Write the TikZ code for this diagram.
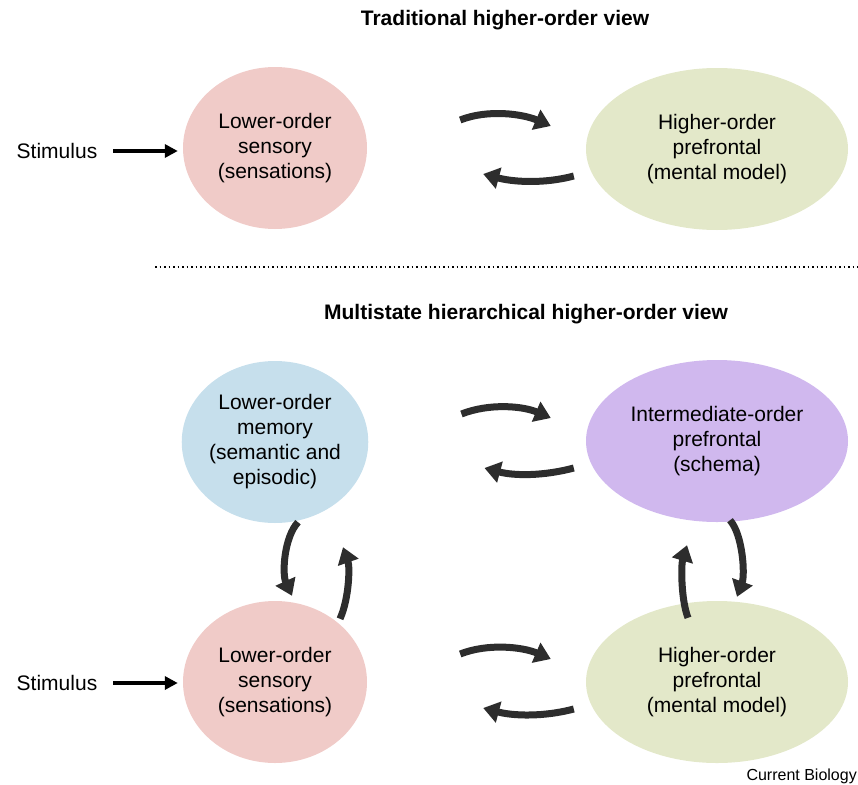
\documentclass[tikz,border=0pt]{standalone}
\usepackage{fontspec}
\setmainfont{Liberation Sans}
\usetikzlibrary{shapes.geometric,arrows.meta}
\definecolor{sensepink}{RGB}{240,203,200}
\definecolor{modelgreen}{RGB}{227,232,201}
\definecolor{memblue}{RGB}{198,223,236}
\definecolor{schemapurple}{RGB}{208,184,238}
\definecolor{arrowgray}{RGB}{45,45,45}
\begin{document}
\begin{tikzpicture}[x=1pt,y=-1pt,
  every node/.style={font=\fontsize{21}{25}\selectfont, align=center, inner sep=0pt},
  heading/.style={font=\bfseries\fontsize{21}{25}\selectfont},
  blob/.style={ellipse, minimum height=162pt},
  cycarrow/.style={line width=7pt, draw=arrowgray, -{Triangle[length=16pt,width=21pt]}},
  stimarrow/.style={line width=4.5pt, -{Triangle[length=13pt,width=13pt]}}]
\useasboundingbox (0,0) rectangle (858,784);
% traditional view
\node[heading] (title1) at (505,20) {Traditional higher-order view};
\node (stim1) at (57,151) {Stimulus};
\node[blob, fill=sensepink, minimum width=184pt] (sens1) at (275,148) {Lower-order\\sensory\\(sensations)};
\node[blob, fill=modelgreen, minimum width=262pt] (model1) at (717,149) {Higher-order\\prefrontal\\(mental model)};
\draw[line width=1.8pt, dash pattern=on 1.8pt off 2.7pt] (155,267) -- (858,267);
% multistate view
\node[heading] (title2) at (526,314) {Multistate hierarchical higher-order view};
\node[blob, fill=memblue, minimum width=184pt] (memory) at (275,442) {Lower-order\\memory\\(semantic and\\episodic)};
\node[blob, fill=schemapurple, minimum width=262pt] (schema) at (717,441) {Intermediate-order\\prefrontal\\(schema)};
\node[blob, fill=sensepink, minimum width=184pt] (sens2) at (275,682) {Lower-order\\sensory\\(sensations)};
\node[blob, fill=modelgreen, minimum width=262pt] (model2) at (717,682) {Higher-order\\prefrontal\\(mental model)};
\node (stim2) at (57,683) {Stimulus};
\node[anchor=east, font=\fontsize{16}{19}\selectfont] (source) at (857,776) {Current Biology};
% stimulus input
\draw[stimarrow] ([xshift=16pt]stim1.east) -- ([xshift=-5pt]stim1.east -| sens1.west);
\draw[stimarrow] ([xshift=16pt]stim2.east) -- ([xshift=-5pt]stim2.east -| sens2.west);
% feedforward / feedback loops
\foreach \l/\r in {sens1/model1, memory/schema, sens2/model2} {
  \draw[cycarrow] ([shift={(93,-28)}]\l.east) .. controls +(28,-11) and +(-28,-12) .. ([shift={(-35,-23)}]\r.west);
  \draw[cycarrow] ([shift={(-12,27)}]\r.west) .. controls +(-30,8) and +(30,8) .. ([shift={(116,26)}]\l.east);
}
\draw[cycarrow] ([shift={(23,-1)}]memory.south) .. controls +(-14,15) and +(-10,-22) .. ([shift={(17,-5)}]sens2.north);
\draw[cycarrow] ([shift={(65,18)}]sens2.north) .. controls +(9,-20) and +(7,20) .. ([shift={(68,24)}]memory.south);
\draw[cycarrow] ([shift={(13,-2)}]schema.south) .. controls +(13,15) and +(8,-22) .. ([shift={(20,-4)}]model2.north);
\draw[cycarrow] ([shift={(-29,17)}]model2.north) .. controls +(-7,-18) and +(-6,20) .. ([shift={(-30,23)}]schema.south);
\end{tikzpicture}
\end{document}
